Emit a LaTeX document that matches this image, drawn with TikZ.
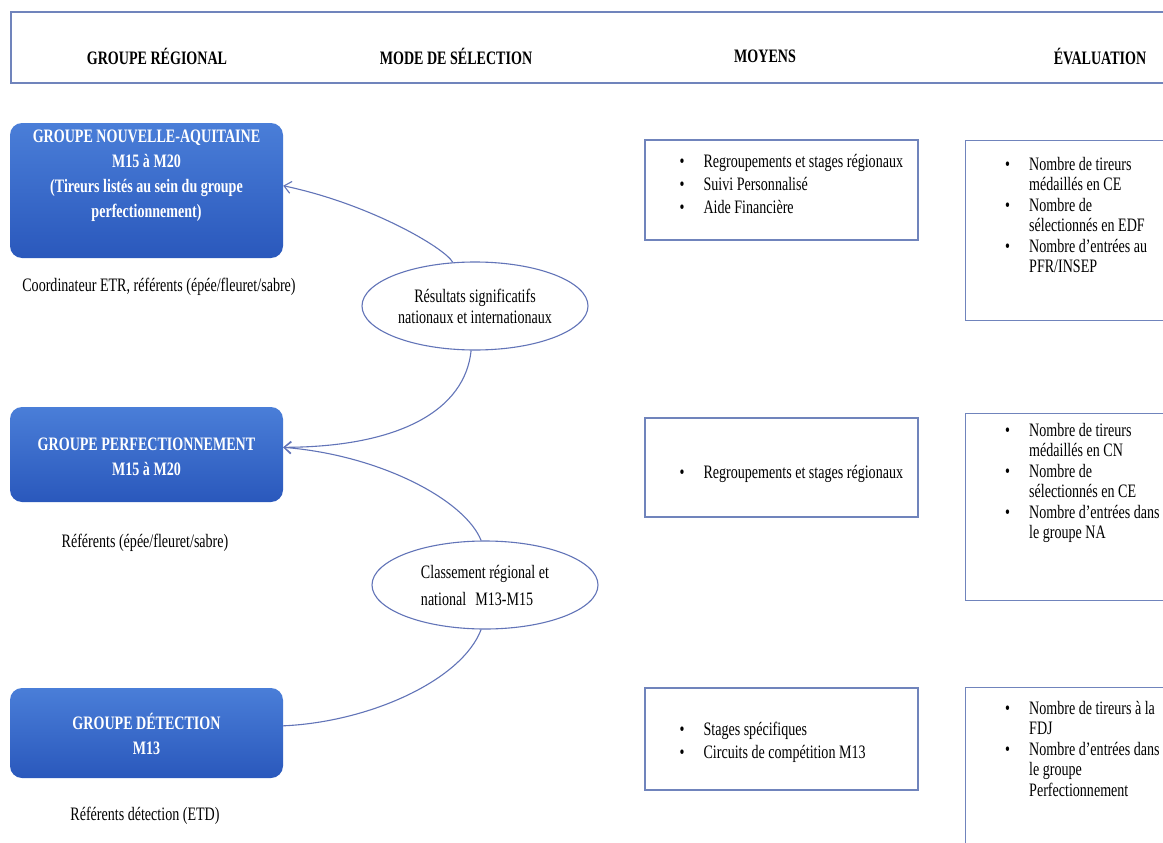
\documentclass[tikz,border=0pt]{standalone}
\usepackage{fontspec}
\setmainfont{Liberation Serif}[FakeStretch=0.74]
\usetikzlibrary{shapes.geometric}
\usetikzlibrary{arrows.meta}

\definecolor{bleuhaut}{RGB}{74,126,216}
\definecolor{bleubas}{RGB}{42,88,188}
\definecolor{trait}{RGB}{98,116,184}
\definecolor{bordure}{RGB}{112,132,188}

\tikzset{
  entete/.style={draw=bordure, line width=2pt, minimum width=1180pt, minimum height=71pt, inner sep=0pt},
  titre/.style={font=\fontsize{19}{21}\selectfont\bfseries, inner sep=0pt},
  groupe/.style={rounded corners=12pt, top color=bleuhaut, bottom color=bleubas, minimum width=273pt, inner sep=0pt},
  textegroupe/.style={text=white, font=\fontsize{19}{25}\selectfont\bfseries, align=center, inner sep=0pt},
  legende/.style={inner sep=0pt},
  ovale/.style={ellipse, draw=trait, line width=1.1pt, fill=white, align=center, inner sep=0pt, minimum width=226pt, minimum height=88pt},
  boite/.style={draw=bordure, line width=1.3pt, fill=white, inner sep=0pt},
  liste/.style={anchor=north west, align=left, inner sep=0pt, font=\fontsize{19}{20.5}\selectfont},
  listem/.style={font=\fontsize{19}{23}\selectfont},
  lien/.style={draw=trait, line width=1.1pt},
  fleche/.style={-{Straight Barb[length=7pt,width=12pt]}}
}
\newcommand{\puce}{\makebox[24pt][l]{•}}
\newcommand{\suite}{\hspace*{24pt}}

\begin{document}
\begin{tikzpicture}[x=1pt, y=1pt, font=\fontsize{19}{21}\selectfont]
  \clip (0,0) rectangle (1163,-843);
  \fill[white] (0,0) rectangle (1163,-843);

  % en-tete
  \node[entete, anchor=north west] (entete) at (10,-11) {};
  \node[titre] (tgroupe) at (157,-56) {GROUPE RÉGIONAL};
  \node[titre] (tmode) at (456,-56) {MODE DE SÉLECTION};
  \node[titre] (tmoyens) at (765,-56) {MOYENS};
  \node[titre] (teval) at (1100,-56) {ÉVALUATION};

  % groupes regionaux
  \node[groupe, minimum height=135pt] (grp1) at (146.5,-190.5) {};
  \node[textegroupe] (tgrp1) at (146.5,-176) {GROUPE NOUVELLE-AQUITAINE\\M15 à M20\\(Tireurs listés au sein du groupe\\perfectionnement)};
  \node[legende] (leg1) at (159,-287) {Coordinateur ETR, référents (épée/fleuret/sabre)};

  \node[groupe, minimum height=95pt] (grp2) at (146.5,-454.5) {};
  \node[textegroupe] (tgrp2) at (146.5,-457) {GROUPE PERFECTIONNEMENT\\M15 à M20};
  \node[legende] (leg2) at (145,-543) {Référents (épée/fleuret/sabre)};

  \node[groupe, minimum height=90pt] (grp3) at (146.5,-733) {};
  \node[textegroupe] (tgrp3) at (146.5,-734) {GROUPE DÉTECTION\\M13};
  \node[legende] (leg3) at (145,-816) {Référents détection (ETD)};

  % mode de selection
  \node[ovale] (res) at (475,-306) {Résultats significatifs\\nationaux et internationaux};
  \node[ovale, align=left] (clas) at (485,-585) {Classement régional et\\[6pt]national\hspace{9pt}M13-M15};

  \draw[lien, fleche] (res.117) .. controls (445,-248) and (370,-204) .. (grp1.2);
  \draw[lien, fleche] (res.-95) .. controls (465,-410) and (400,-447) .. (grp2.3);
  \draw[lien, fleche] (clas.95) .. controls (465,-500) and (380,-455) .. (grp2.3);
  \draw[lien] (clas.-95) .. controls (462,-680) and (370,-722) .. (grp3.3);

  % moyens
  \node[boite, minimum width=273pt, minimum height=100pt] (moy1) at (781.5,-190) {};
  \node[liste, listem] (lmoy1) at ([shift={(35,-15)}]moy1.north west) {\puce Regroupements et stages régionaux\\\puce Suivi Personnalisé\\\puce Aide Financière};

  \node[boite, minimum width=273pt, minimum height=99pt] (moy2) at (781.5,-467.5) {};
  \node[liste, listem] (lmoy2) at ([shift={(35,-48)}]moy2.north west) {\puce Regroupements et stages régionaux};

  \node[boite, minimum width=273pt, minimum height=102pt] (moy3) at (781.5,-739) {};
  \node[liste, listem] (lmoy3) at ([shift={(35,-35)}]moy3.north west) {\puce Stages spécifiques\\\puce Circuits de compétition M13};

  % evaluation
  \node[boite, anchor=north west, minimum width=215pt, minimum height=180pt] (eval1) at (965,-140) {};
  \node[liste] (leval1) at ([shift={(40,-17)}]eval1.north west) {\puce Nombre de tireurs\\\suite médaillés en CE\\\puce Nombre de\\\suite sélectionnés en EDF\\\puce Nombre d’entrées au\\\suite PFR/INSEP};

  \node[boite, anchor=north west, minimum width=215pt, minimum height=187pt] (eval2) at (965,-413) {};
  \node[liste] (leval2) at ([shift={(40,-10)}]eval2.north west) {\puce Nombre de tireurs\\\suite médaillés en CN\\\puce Nombre de\\\suite sélectionnés en CE\\\puce Nombre d’entrées dans\\\suite le groupe NA};

  \node[boite, anchor=north west, minimum width=215pt, minimum height=200pt] (eval3) at (965,-687) {};
  \node[liste] (leval3) at ([shift={(40,-14)}]eval3.north west) {\puce Nombre de tireurs à la\\\suite FDJ\\\puce Nombre d’entrées dans\\\suite le groupe\\\suite Perfectionnement};
\end{tikzpicture}
\end{document}
